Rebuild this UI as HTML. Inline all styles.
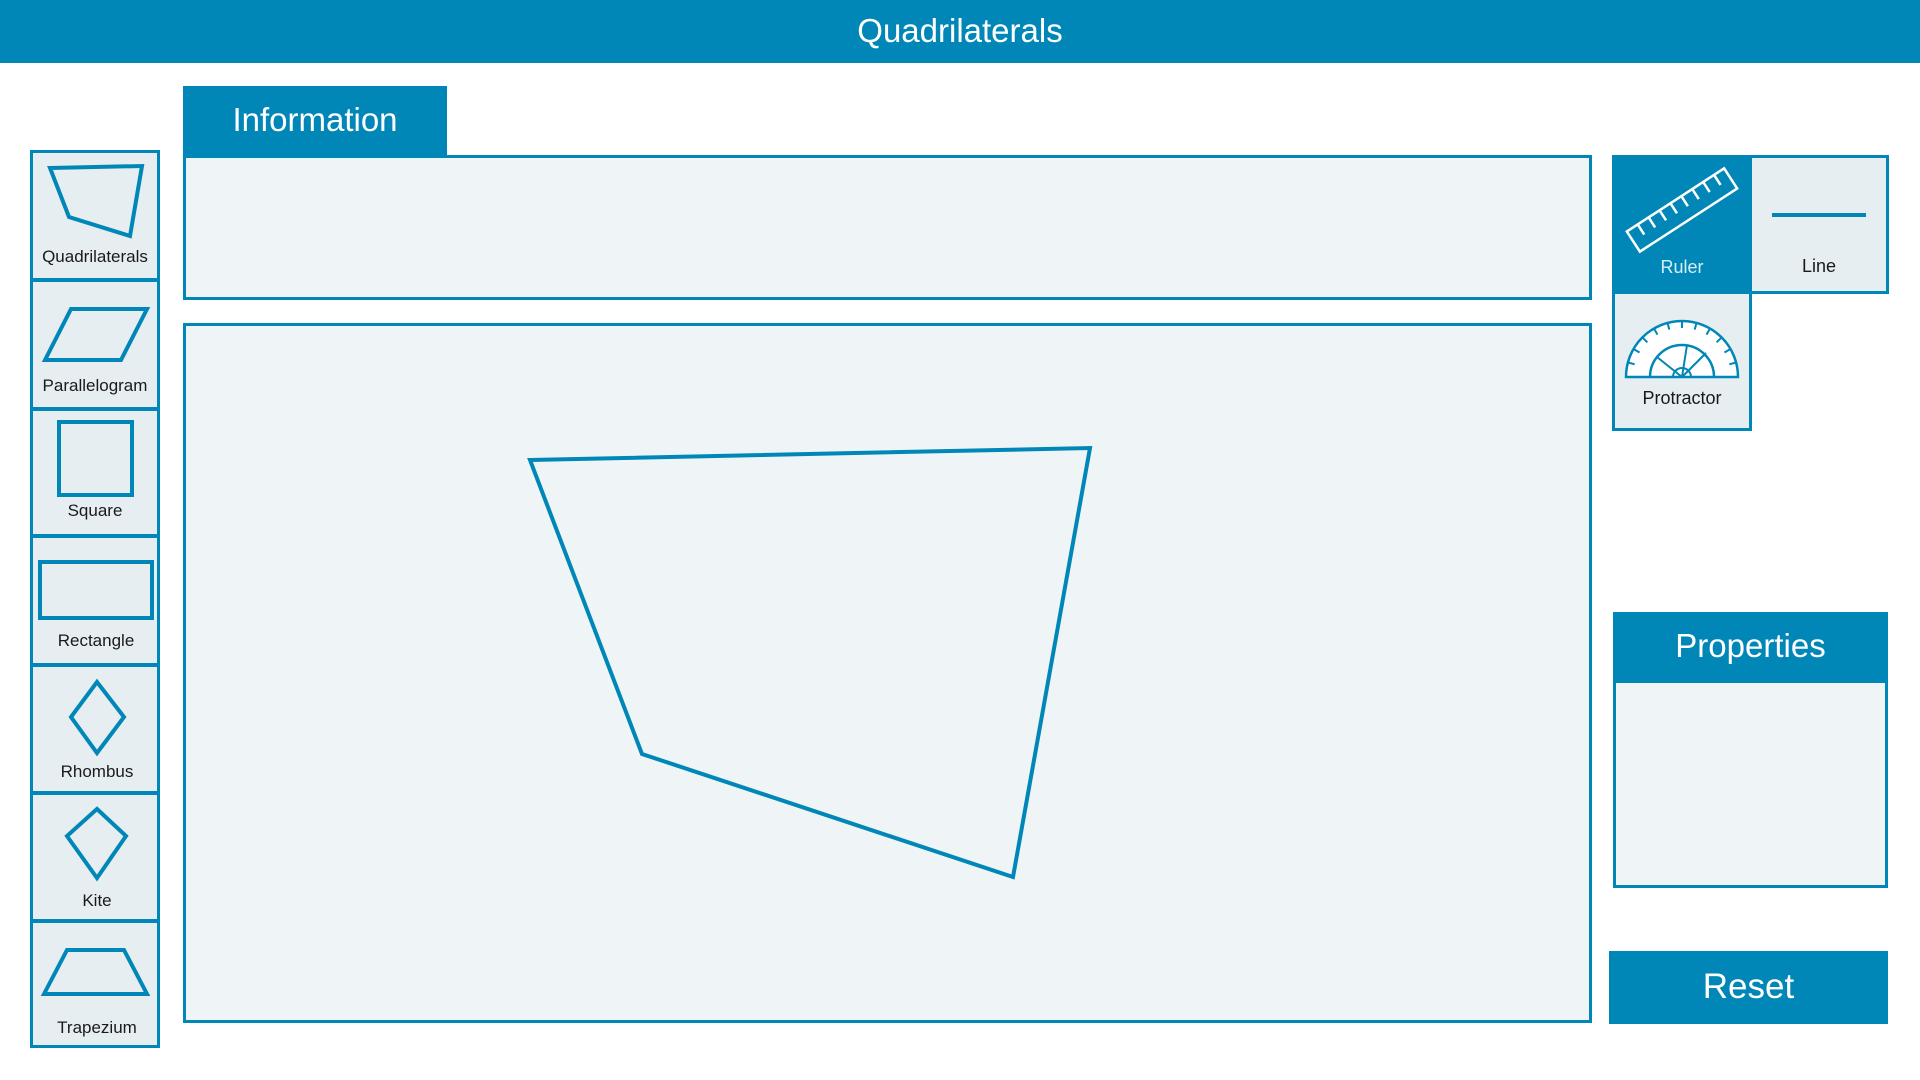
<!DOCTYPE html>
<html><head><meta charset="utf-8"><style>
*{box-sizing:border-box;margin:0;padding:0}
body{width:1920px;height:1080px;background:#fff;font-family:"Liberation Sans",sans-serif;position:relative;overflow:hidden}
.abs{position:absolute}
.blue{background:#0087b7;color:#fff}
.tool{position:absolute;left:30px;width:130px;border:3px solid #0087b7;background:#e6eef1}
.tool svg{position:absolute;left:-3px;top:-3px}
.lbl{font-size:17px;fill:#1a1a1a;text-anchor:middle;font-family:"Liberation Sans",sans-serif}
</style></head><body>
<div class="abs blue" style="left:0;top:0;width:1920px;height:63px;text-align:center;font-size:33px;line-height:62px">Quadrilaterals</div>

<div class="abs blue" style="left:183px;top:86px;width:264px;height:70px;font-size:33px;line-height:68px;text-align:center">Information</div>
<div class="abs" style="left:183px;top:155px;width:1409px;height:145px;border:3px solid #0087b7;background:#eff5f6"></div>

<div class="abs" style="left:183px;top:323px;width:1409px;height:700px;border:3px solid #0087b7;background:#eff5f6">
<svg id="cv" width="1409" height="700" style="position:absolute;left:-3px;top:-3px"></svg>
</div>

<div class="tool" style="top:150px;height:131px"><svg width="130" height="130"><polygon points="20,18 112,16 100,86 39,67" fill="none" stroke="#0087b7" stroke-width="4"/><text class="lbl" x="65" y="112">Quadrilaterals</text></svg></div>
<div class="tool" style="top:279px;height:131px"><svg width="130" height="130"><polygon points="15,81 41,30 117,30 91,81" fill="none" stroke="#0087b7" stroke-width="4"/><text class="lbl" x="65" y="112">Parallelogram</text></svg></div>
<div class="tool" style="top:408px;height:129px"><svg width="130" height="130"><rect x="29" y="14" width="73" height="73" fill="none" stroke="#0087b7" stroke-width="4"/><text class="lbl" x="65" y="108">Square</text></svg></div>
<div class="tool" style="top:535px;height:131px"><svg width="130" height="130"><rect x="10" y="27" width="112" height="56" fill="none" stroke="#0087b7" stroke-width="4"/><text class="lbl" x="66" y="111">Rectangle</text></svg></div>
<div class="tool" style="top:664px;height:130px"><svg width="130" height="130"><polygon points="67,18 94,53 67,89 41,53" fill="none" stroke="#0087b7" stroke-width="4"/><text class="lbl" x="67" y="113">Rhombus</text></svg></div>
<div class="tool" style="top:792px;height:130px"><svg width="130" height="130"><polygon points="67,17 96,44 67,86 37,44" fill="none" stroke="#0087b7" stroke-width="4"/><text class="lbl" x="67" y="114">Kite</text></svg></div>
<div class="tool" style="top:920px;height:128px"><svg width="130" height="130"><polygon points="14,74 37,30 94,30 117,74" fill="none" stroke="#0087b7" stroke-width="4"/><text class="lbl" x="67" y="113">Trapezium</text></svg></div>

<div class="abs" style="left:1612px;top:155px;width:140px;height:139px;background:#0087b7;border:3px solid #0087b7">
<svg width="140" height="139" style="position:absolute;left:-3px;top:-3px">
<g transform="translate(70,55) rotate(-33)"><rect x="-58" y="-12" width="116" height="24" fill="none" stroke="#fff" stroke-width="2.5"/>
<g stroke="#fff" stroke-width="2.5"><line x1="-45" y1="-12" x2="-45" y2="0"/><line x1="-32" y1="-12" x2="-32" y2="0"/><line x1="-19" y1="-12" x2="-19" y2="0"/><line x1="-6" y1="-12" x2="-6" y2="0"/><line x1="7" y1="-12" x2="7" y2="0"/><line x1="20" y1="-12" x2="20" y2="0"/><line x1="33" y1="-12" x2="33" y2="0"/><line x1="46" y1="-12" x2="46" y2="0"/></g></g>
<text x="70" y="118" font-size="18" fill="#d7eef6" text-anchor="middle" font-family="Liberation Sans,sans-serif">Ruler</text></svg></div>
<div class="abs" style="left:1749px;top:155px;width:140px;height:139px;background:#e6eef1;border:3px solid #0087b7">
<svg width="140" height="139" style="position:absolute;left:-3px;top:-3px"><line x1="23" y1="60" x2="117" y2="60" stroke="#0087b7" stroke-width="4"/><text x="70" y="117" font-size="18" fill="#1a1a1a" text-anchor="middle" font-family="Liberation Sans,sans-serif">Line</text></svg></div>
<div class="abs" style="left:1612px;top:291px;width:140px;height:140px;background:#e6eef1;border:3px solid #0087b7">
<svg width="140" height="140" style="position:absolute;left:-3px;top:-3px">
<path d="M14,86 A56,56 0 0 1 126,86 Z" fill="#fff" stroke="#0087b7" stroke-width="2.5"/>
<g stroke="#0087b7" stroke-width="2" transform="translate(70,86)">
<line x1="-56" y1="0" x2="-49" y2="0" transform="rotate(15)"/><line x1="-56" y1="0" x2="-49" y2="0" transform="rotate(30)"/><line x1="-56" y1="0" x2="-49" y2="0" transform="rotate(45)"/><line x1="-56" y1="0" x2="-49" y2="0" transform="rotate(60)"/><line x1="-56" y1="0" x2="-49" y2="0" transform="rotate(75)"/><line x1="-56" y1="0" x2="-49" y2="0" transform="rotate(90)"/><line x1="-56" y1="0" x2="-49" y2="0" transform="rotate(105)"/><line x1="-56" y1="0" x2="-49" y2="0" transform="rotate(120)"/><line x1="-56" y1="0" x2="-49" y2="0" transform="rotate(135)"/><line x1="-56" y1="0" x2="-49" y2="0" transform="rotate(150)"/><line x1="-56" y1="0" x2="-49" y2="0" transform="rotate(165)"/></g>
<path d="M38,86 A32,32 0 0 1 102,86" fill="none" stroke="#0087b7" stroke-width="2.5"/>
<path d="M61,86 A9,9 0 0 1 79,86" fill="none" stroke="#0087b7" stroke-width="2"/>
<g stroke="#0087b7" stroke-width="2"><line x1="70" y1="86" x2="45" y2="66"/><line x1="70" y1="86" x2="75" y2="54"/><line x1="70" y1="86" x2="94" y2="62"/></g>
<text x="70" y="113" font-size="18" fill="#1a1a1a" text-anchor="middle" font-family="Liberation Sans,sans-serif">Protractor</text></svg></div>

<div class="abs blue" style="left:1613px;top:612px;width:275px;height:71px;font-size:33px;line-height:68px;text-align:center">Properties</div>
<div class="abs" style="left:1613px;top:680px;width:275px;height:208px;border:3px solid #0087b7;background:#eff5f6"></div>

<div class="abs blue" style="left:1609px;top:951px;width:279px;height:73px;font-size:35px;line-height:72px;text-align:center">Reset</div>

<script>
const shapeX = [530, 1090, 1013, 642];
const shapeY = [460, 448, 877, 754];
const ox = 183, oy = 323;
const sx = v => v - ox, sy = v => v - oy;
const cv = document.getElementById('cv');
const poly = document.createElementNS('http://www.w3.org/2000/svg','polygon');
poly.setAttribute('points', shapeX.map((x,i)=>sx(x)+','+sy(shapeY[i])).join(' '));
poly.setAttribute('fill','none');poly.setAttribute('stroke','#0087b7');poly.setAttribute('stroke-width','4');


cv.appendChild(poly);
</script>
</body></html>
